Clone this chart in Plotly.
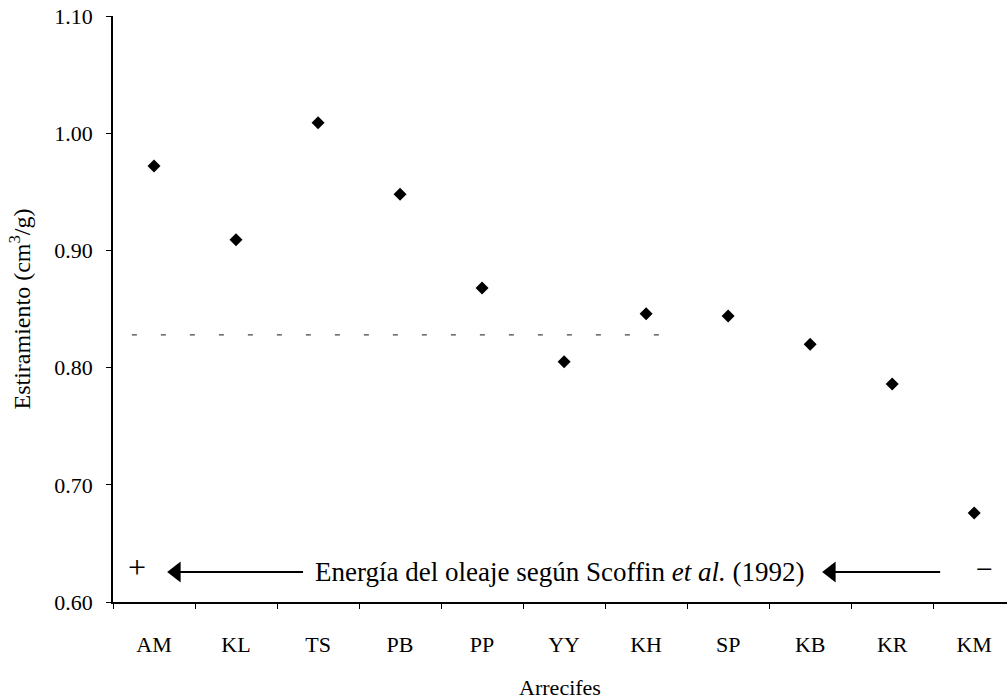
import plotly.graph_objects as go

# Data
reefs = ["AM", "KL", "TS", "PB", "PP", "YY", "KH", "SP", "KB", "KR", "KM"]
stretch = [0.972, 0.909, 1.009, 0.948, 0.868, 0.805, 0.846, 0.844, 0.820, 0.786, 0.676]
y_ticks = [0.60, 0.70, 0.80, 0.90, 1.00, 1.10]

# Reference (broken) line, in category-index units
ref_level = 0.828
ref_x_start = -0.27
ref_x_end = 6.40

# Wave-energy arrows (category-index units): tip, head centre, tail
arrow_left = [0.159, 0.27, 1.817]
arrow_right = [8.146, 8.256, 9.585]
arrow_y = 0.6256

FONT = "Liberation Serif"
X_RANGE = [-0.5, 10.4]

fig = go.Figure()

fig.add_trace(go.Scatter(
    x=reefs, y=stretch, mode="markers",
    marker=dict(symbol="diamond", size=10, color="black"),
    showlegend=False, hoverinfo="x+y",
))

# reference line on an overlaid linear axis
fig.add_trace(go.Scatter(
    x=[ref_x_start, ref_x_end], y=[ref_level, ref_level], xaxis="x2",
    mode="lines", line=dict(color="#444444", width=1.3, dash="5px,24px"),
    showlegend=False, hoverinfo="skip",
))

for arr in (arrow_left, arrow_right):
    fig.add_trace(go.Scatter(
        x=[arr[1], arr[2]], y=[arrow_y, arrow_y], xaxis="x2",
        mode="lines", line=dict(color="black", width=2),
        showlegend=False, hoverinfo="skip",
    ))
    fig.add_trace(go.Scatter(
        x=[arr[1]], y=[arrow_y], xaxis="x2", mode="markers",
        marker=dict(symbol="triangle-left", size=18, color="black"),
        showlegend=False, hoverinfo="skip",
    ))

fig.add_annotation(x=-0.207, y=0.630, xref="x", yref="y", text="+", showarrow=False,
                   font=dict(family=FONT, size=32, color="black"))
fig.add_annotation(x=10.13, y=0.629, xref="x", yref="y", text="−", showarrow=False,
                   font=dict(family=FONT, size=30, color="black"))
fig.add_annotation(x=4.94, y=arrow_y, xref="x", yref="y",
                   text="Energía del oleaje según Scoffin <i>et al.</i> (1992)",
                   showarrow=False, font=dict(family=FONT, size=27, color="black"))

fig.update_layout(
    width=1007, height=700,
    margin=dict(l=113, r=0, t=16, b=98),
    paper_bgcolor="white", plot_bgcolor="white",
    font=dict(family=FONT, size=22, color="black"),
    showlegend=False,
    xaxis2=dict(overlaying="x", range=X_RANGE, visible=False, anchor="y"),
)

fig.layout.xaxis.update(
    type="category", categoryorder="array", categoryarray=reefs,
    range=X_RANGE, showline=True, linecolor="black", linewidth=1.5,
    ticks="outside", tickson="boundaries", ticklen=5, tickcolor="black",
    showgrid=False, zeroline=False, ticklabelstandoff=22,
    tickfont=dict(family=FONT, size=22, color="black"),
    title=dict(text="Arrecifes", standoff=26, font=dict(family=FONT, size=22, color="black")),
)
fig.update_yaxes(
    range=[0.6, 1.1], tickvals=y_ticks, tickformat=".2f",
    showline=True, linecolor="black", linewidth=1.5,
    ticks="outside", ticklen=5, tickcolor="black",
    showgrid=False, zeroline=False, ticklabelstandoff=9,
    tickfont=dict(family=FONT, size=22, color="black"),
    title=dict(text="Estiramiento (cm<sup>3</sup>/g)", standoff=17,
               font=dict(family=FONT, size=24, color="black")),
)

fig.write_html("out.html", config={"displayModeBar": False},
               post_script="document.body.style.margin='0';document.body.style.overflow='hidden';")
